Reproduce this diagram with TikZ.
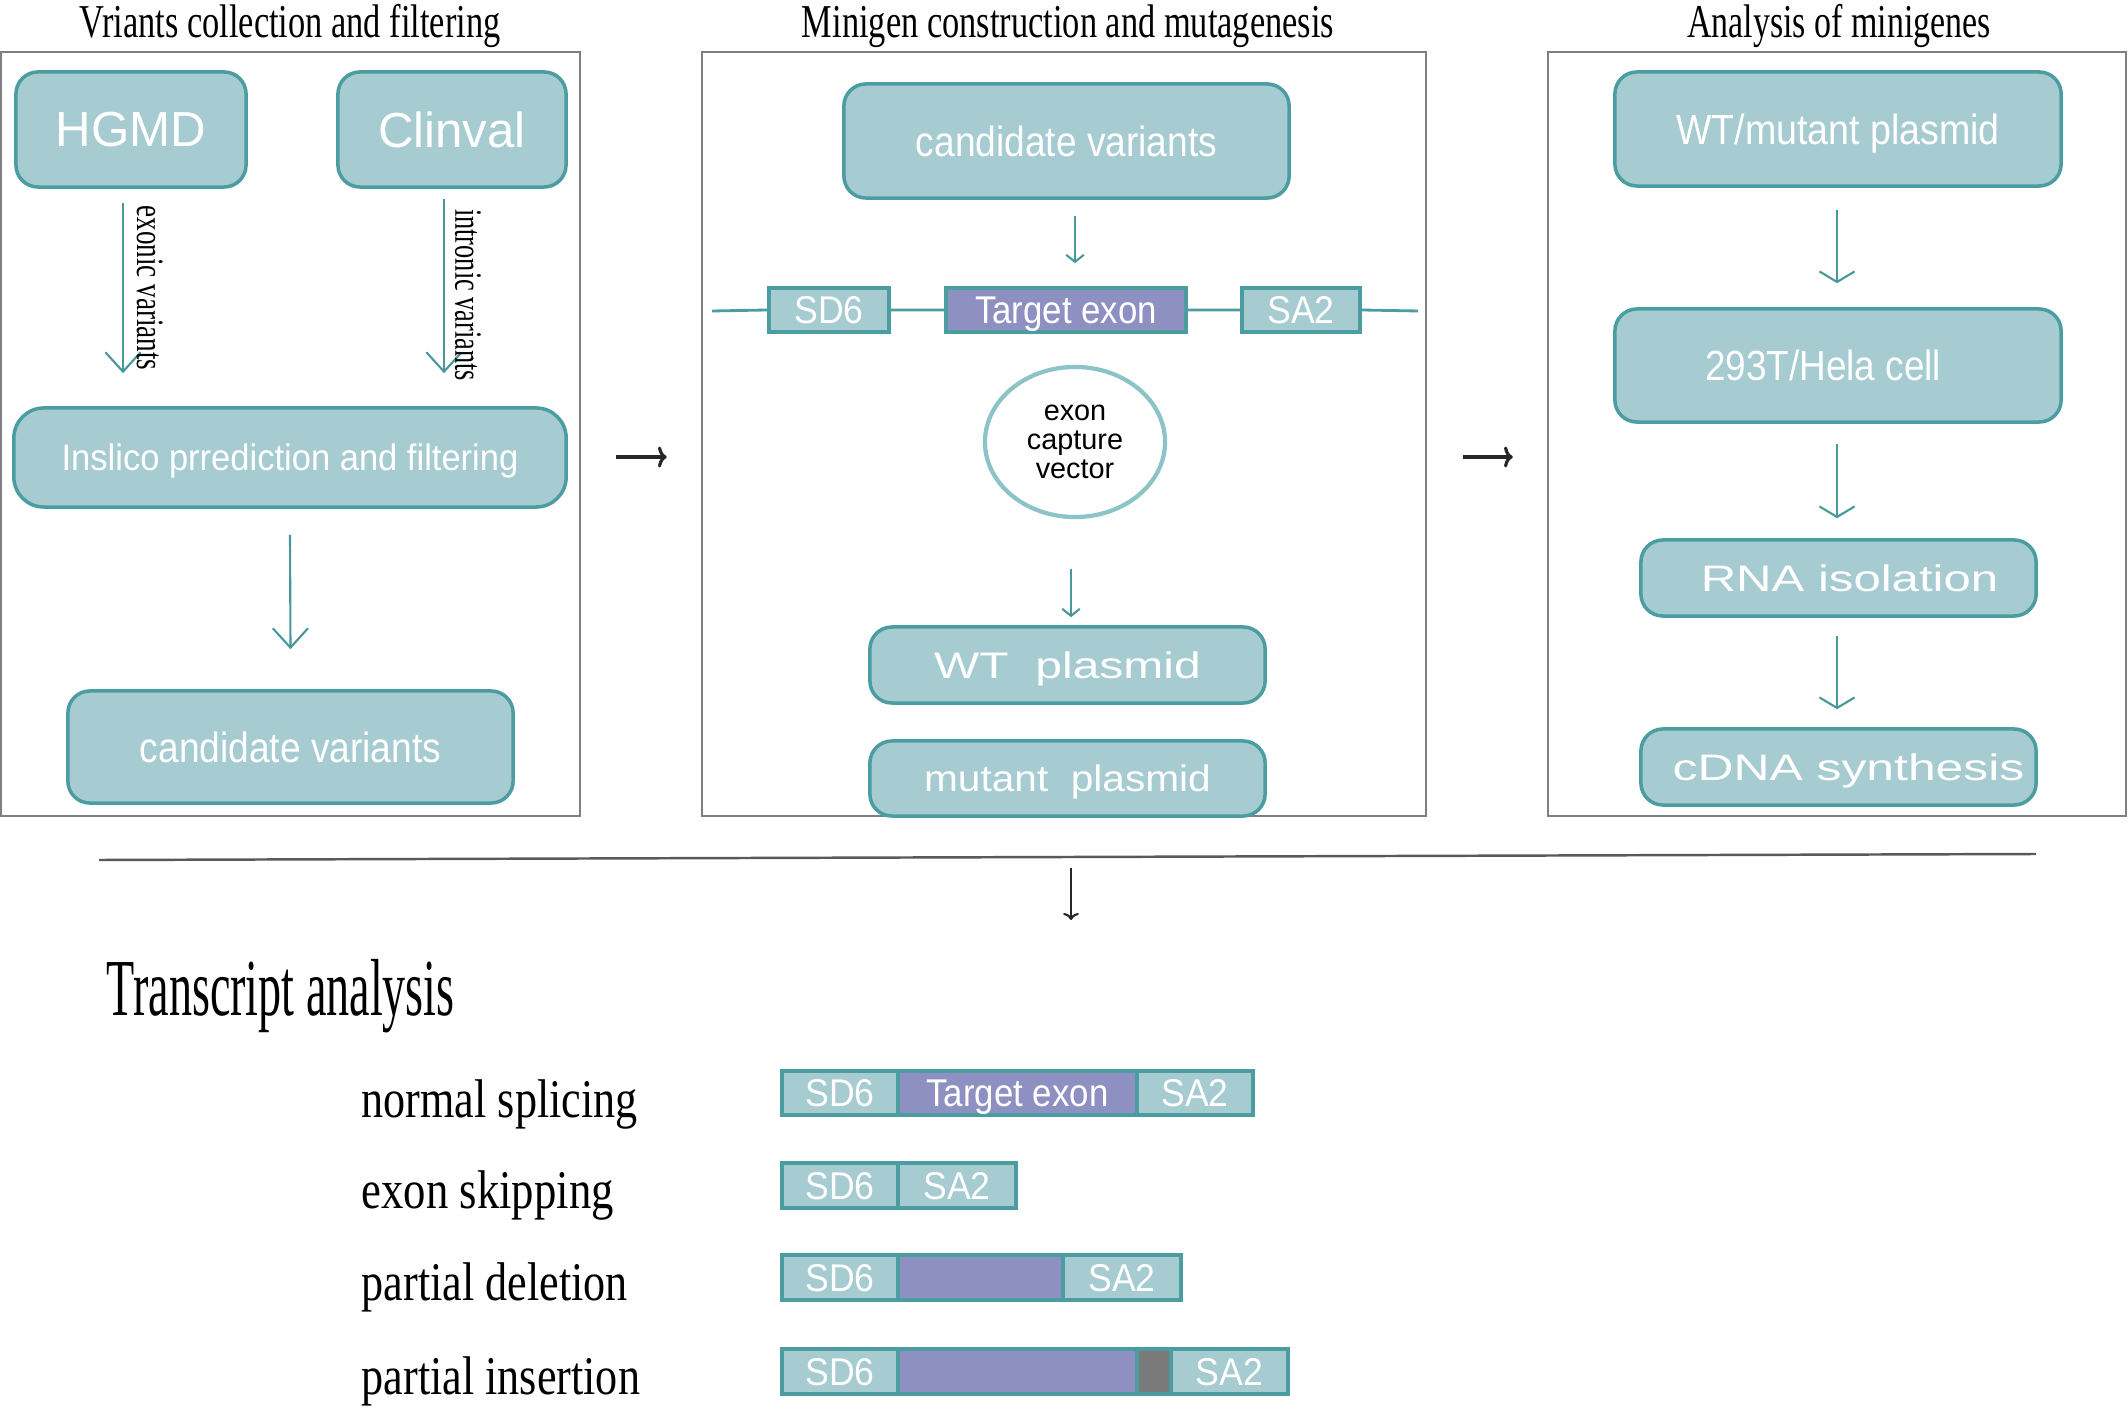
\documentclass[tikz,border=0pt]{standalone}
\usepackage{fontspec}
\setmainfont{Liberation Serif}
\setsansfont{Liberation Sans}
\usetikzlibrary{arrows.meta,calc,shapes.geometric}
\definecolor{tfill}{RGB}{166,203,208}
\definecolor{tdraw}{RGB}{76,157,161}
\definecolor{epurple}{RGB}{141,144,192}
\definecolor{tarrowc}{RGB}{72,152,154}
\definecolor{ecirc}{RGB}{140,195,198}
\definecolor{pgray}{RGB}{128,128,128}
\definecolor{insgray}{RGB}{122,122,122}
\newcommand{\sx}[2]{\scalebox{#1}[1]{#2}}
\begin{document}
\begin{tikzpicture}[x=0.01cm,y=-0.01cm,
  panel/.style={draw=pgray,line width=0.6pt,inner sep=0pt,minimum height=7.64cm},
  ttl/.style={anchor=base,inner sep=0pt,font=\fontsize{13.4}{16}\selectfont},
  rbox/.style={draw=tdraw,fill=tfill,line width=1pt,rounded corners=0.22cm,text=white,inner sep=0pt,text depth=0pt},
  seg/.style={draw=tdraw,fill=tfill,line width=1pt,text=white,inner sep=0pt,text depth=0pt,
    font=\sffamily\fontsize{11}{13}\selectfont},
  exseg/.style={seg,fill=epurple},
  tarr/.style={draw=tarrowc,line width=0.6pt,-{Straight Barb[length=5.5pt,width=10pt]}},
  tarrflat/.style={draw=tarrowc,line width=0.6pt,-{Straight Barb[length=3pt,width=10pt]}},
  tarrsmall/.style={draw=tarrowc,line width=0.6pt,-{Straight Barb[length=2pt,width=5pt]}},
  barr/.style={draw=black!85,line width=0.9pt,-{Computer Modern Rightarrow[length=2.5pt,width=6pt]}},
  barrthin/.style={draw=black!85,line width=0.6pt,-{Computer Modern Rightarrow[length=2pt,width=4.5pt]}},
  gline/.style={draw=tdraw,line width=0.8pt},
  vlbl/.style={rotate=-90,inner sep=0pt,font=\fontsize{11}{13}\selectfont},
  rowlbl/.style={anchor=base west,inner sep=0pt,font=\fontsize{15.5}{18}\selectfont}]
\useasboundingbox (0,0) rectangle (2128,1407);
\fill[white] (0,0) rectangle (2128,1407);

% panels
\node[panel,minimum width=5.79cm] (p1) at (290.5,434) {};
\node[panel,minimum width=7.24cm] (p2) at (1064,434) {};
\node[panel,minimum width=5.78cm] (p3) at (1837,434) {};

% titles
\node[ttl] (t1) at (290,38) {\sx{0.73}{Vriants collection and filtering}};
\node[ttl] (t2) at (1068,38) {\sx{0.73}{Minigen construction and mutagenesis}};
\node[ttl] (t3) at (1839,38) {\sx{0.72}{Analysis of minigenes}};

% panel 1
\node[rbox,minimum width=2.30cm,minimum height=1.15cm,font=\sffamily\fontsize{14}{16}\selectfont] (hgmd) at (131,129.5) {HGMD};
\node[rbox,minimum width=2.28cm,minimum height=1.15cm,font=\sffamily\fontsize{14}{16}\selectfont] (clinval) at (452,129.5) {Clinval};
\node[rbox,rounded corners=0.3cm,minimum width=5.52cm,minimum height=0.99cm,font=\sffamily\fontsize{10.5}{12}\selectfont] (inslico) at (290,457.5) {\sx{0.935}{Inslico prrediction and filtering}};
\node[rbox,minimum width=4.45cm,minimum height=1.12cm,font=\sffamily\fontsize{12}{14}\selectfont] (cand1) at (290.5,747) {\sx{0.88}{candidate variants}};

\draw[tarr] ($(hgmd.south)+(-8,14)$) -- ($(inslico.north)+(-167,-33)$);
\draw[tarr] ($(clinval.south)+(-8,10)$) -- ($(inslico.north)+(154,-33)$);
\node[vlbl] (lex) at (150,288) {\sx{0.7}{exonic variants}};
\node[vlbl] (lin) at (468,295) {\sx{0.68}{intronic variants}};
\draw[tarr] ($(inslico.south)+(0,26)$) -- ($(cand1.north)+(0,-40)$);

% panel 2
\node[rbox,minimum width=4.45cm,minimum height=1.14cm,font=\sffamily\fontsize{12}{14}\selectfont] (cand2) at (1066.5,141) {\sx{0.88}{candidate variants}};
\coordinate (gl) at (712,311);
\coordinate (gr) at (1418,311);
\node[seg,minimum width=1.20cm,minimum height=0.44cm] (sd6) at (829,310) {\sx{0.92}{SD6}};
\node[exseg,minimum width=2.40cm,minimum height=0.44cm] (tex) at (1066,310) {\sx{0.9}{Target exon}};
\node[seg,minimum width=1.18cm,minimum height=0.44cm] (sa2) at (1301,310) {\sx{0.92}{SA2}};
\draw[gline] (gl) -- (sd6.west) (sd6.east) -- (tex.west) (tex.east) -- (sa2.west) (sa2.east) -- (gr);
\draw[tarrsmall] ($(cand2.south)+(8.5,16)$) -- ($(tex.north)+(9,-23)$);
\node[ellipse,draw=ecirc,line width=1.2pt,fill=white,minimum width=1.80cm,minimum height=1.50cm,inner sep=0pt,
  font=\sffamily\fontsize{8.2}{8.3}\selectfont,align=center] (vec) at (1075,442) {exon\\capture\\vector};
\node[rbox,minimum width=3.95cm,minimum height=0.76cm,font=\sffamily\fontsize{10.5}{12}\selectfont] (wt) at (1067.5,665) {\sx{1.3}{WT\ \ plasmid}};
\node[rbox,minimum width=3.95cm,minimum height=0.75cm,font=\sffamily\fontsize{10.5}{12}\selectfont] (mut) at (1067.5,778.5) {\sx{1.1}{mutant\ \ plasmid}};
\draw[tarrsmall] ($(vec.south)+(-4,50)$) -- ($(wt.north)+(3.5,-8)$);

% panel 3
\node[rbox,minimum width=4.46cm,minimum height=1.14cm,font=\sffamily\fontsize{12}{14}\selectfont] (wtm) at (1838,129) {\sx{0.89}{WT/mutant plasmid}};
\node[rbox,minimum width=4.46cm,minimum height=1.13cm,font=\sffamily\fontsize{12}{14}\selectfont] (cell) at (1838,365.5) {\hspace*{-0.3cm}\sx{0.875}{293T/Hela cell}};
\node[rbox,minimum width=3.95cm,minimum height=0.76cm,font=\sffamily\fontsize{10.5}{12}\selectfont] (rna) at (1838.5,578) {\hspace*{0.22cm}\sx{1.33}{RNA isolation}};
\node[rbox,minimum width=3.95cm,minimum height=0.76cm,font=\sffamily\fontsize{10.5}{12}\selectfont] (cdna) at (1838.5,767) {\hspace*{0.2cm}\sx{1.35}{cDNA synthesis}};
\draw[tarrflat] ($(wtm.south)+(-1,22)$) -- ($(cell.north)+(-1,-24)$);
\draw[tarrflat] ($(cell.south)+(-1,20)$) -- ($(rna.north)+(-1.5,-20)$);
\draw[tarrflat] ($(rna.south)+(-1.5,18)$) -- ($(cdna.north)+(-1.5,-18)$);

% inter-panel arrows
\draw[barr] ($(p1.east)+(35,23)$) -- ($(p2.west)+(-34,23)$);
\draw[barr] ($(p2.east)+(36,23)$) -- ($(p3.west)+(-34,23)$);

% separator and down arrow
\coordinate (hl1) at (99,860);
\coordinate (hl2) at (2036,854);
\draw[draw=black!65,line width=0.7pt] (hl1) -- (hl2);
\coordinate (da1) at (1071,868);
\coordinate (da2) at (1071,920);
\draw[barrthin] (da1) -- (da2);

% transcript analysis
\node[anchor=base west,inner sep=0pt,font=\fontsize{23}{26}\selectfont] (ta) at (106,1015) {\sx{0.57}{Transcript analysis}};
\node[rowlbl] (l1) at (361,1117) {\sx{0.81}{normal splicing}};
\node[rowlbl] (l2) at (361,1208) {\sx{0.82}{exon skipping}};
\node[rowlbl] (l3) at (361,1300) {\sx{0.81}{partial deletion}};
\node[rowlbl] (l4) at (361,1394) {\sx{0.81}{partial insertion}};

% row 1
\node[seg,minimum width=1.16cm,minimum height=0.44cm] (sd6a) at (840,1093) {\sx{0.92}{SD6}};
\node[exseg,minimum width=2.39cm,minimum height=0.44cm] (exa) at (1017.5,1093) {\sx{0.9}{Target exon}};
\node[seg,minimum width=1.16cm,minimum height=0.44cm] (sa2a) at (1195,1093) {\sx{0.92}{SA2}};
% row 2
\node[seg,minimum width=1.16cm,minimum height=0.45cm] (sd6b) at (840,1185.5) {\sx{0.92}{SD6}};
\node[seg,minimum width=1.18cm,minimum height=0.45cm] (sa2b) at (957,1185.5) {\sx{0.92}{SA2}};
% row 3
\node[seg,minimum width=1.16cm,minimum height=0.45cm] (sd6c) at (840,1277.5) {\sx{0.92}{SD6}};
\node[exseg,minimum width=1.65cm,minimum height=0.45cm] (exc) at (980.5,1277.5) {};
\node[seg,minimum width=1.18cm,minimum height=0.45cm] (sa2c) at (1122,1277.5) {\sx{0.92}{SA2}};
% row 4
\node[seg,minimum width=1.16cm,minimum height=0.45cm] (sd6d) at (840,1371.5) {\sx{0.92}{SD6}};
\node[exseg,minimum width=2.39cm,minimum height=0.45cm] (exd) at (1017.5,1371.5) {};
\node[seg,fill=insgray,minimum width=0.34cm,minimum height=0.45cm] (insd) at (1154,1371.5) {};
\node[seg,minimum width=1.17cm,minimum height=0.45cm] (sa2d) at (1229.5,1371.5) {\sx{0.92}{SA2}};
\end{tikzpicture}
\end{document}
